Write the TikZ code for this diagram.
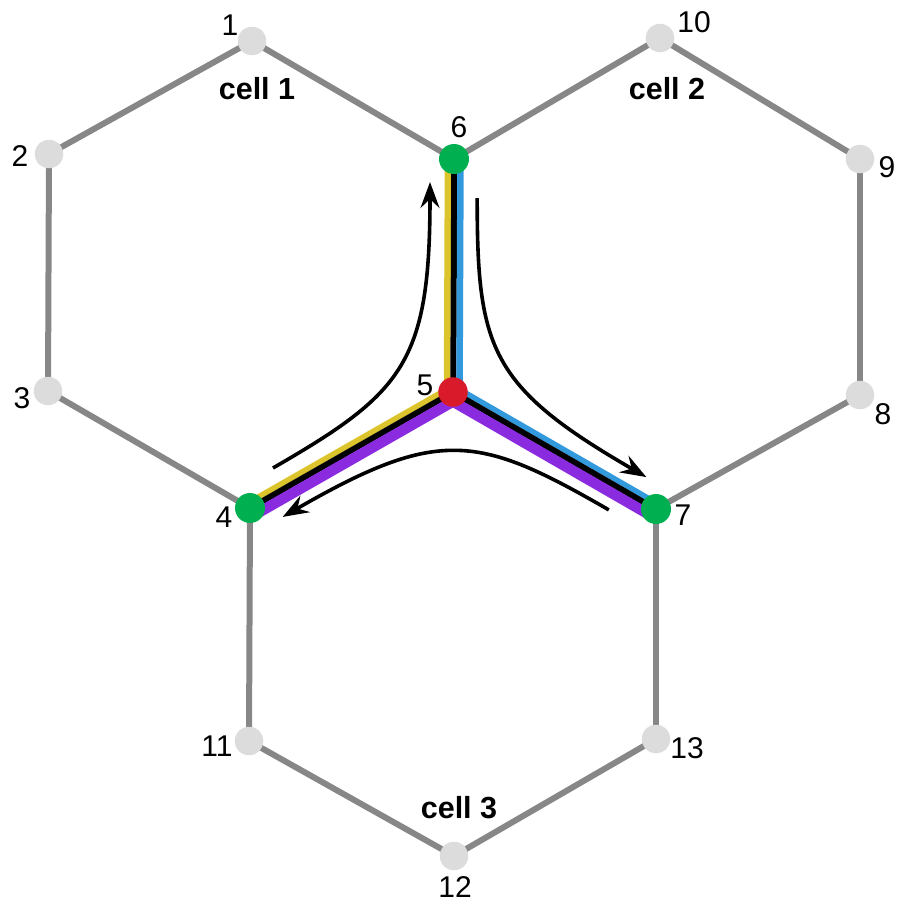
\documentclass[tikz,border=0pt]{standalone}
\usepackage{fontspec}
\setmainfont{Liberation Sans}
\usetikzlibrary{calc,arrows.meta}
\pgfdeclarelayer{bg}
\pgfsetlayers{bg,main}
\definecolor{edgegray}{HTML}{878787}
\definecolor{nodegray}{HTML}{DCDCDC}
\definecolor{cgreen}{HTML}{00B050}
\definecolor{cred}{HTML}{D91A2A}
\definecolor{cyellow}{HTML}{DCC42C}
\definecolor{cblue}{HTML}{3399DD}
\definecolor{cpurple}{HTML}{8B2BE0}
\begin{document}
\begin{tikzpicture}[x=1pt,y=-1pt,
  vtx/.style={circle,fill=nodegray,minimum size=28.5pt,inner sep=0pt},
  hub/.style={circle,fill=cgreen,minimum size=30pt,inner sep=0pt},
  ctr/.style={circle,fill=cred,minimum size=29.5pt,inner sep=0pt},
  lbl/.style={inner sep=0pt,font=\fontsize{30}{32}\selectfont},
  cellname/.style={inner sep=0pt,font=\fontsize{30.5}{32}\selectfont\bfseries},
  edge/.style={draw=edgegray,line width=6pt},
  flow/.style={line width=3.6pt,-{Stealth[length=26pt,width=19pt,inset=9pt]}}]
\useasboundingbox (0,0) rectangle (901,905);

% vertices
\node[vtx] (n1) at (252,41) {};
\node[vtx] (n2) at (49,154) {};
\node[vtx] (n3) at (48,391) {};
\node[hub] (n4) at (250,508) {};
\node[ctr] (n5) at (453,392) {};
\node[hub] (n6) at (454,159) {};
\node[hub] (n7) at (656,509) {};
\node[vtx] (n8) at (860,395) {};
\node[vtx] (n9) at (860,159) {};
\node[vtx] (n10) at (660,38) {};
\node[vtx] (n11) at (249,741) {};
\node[vtx] (n12) at (454,856) {};
\node[vtx] (n13) at (656,739) {};

\begin{pgfonlayer}{bg}
  \foreach \a/\b in {n1/n2,n2/n3,n3/n4,n1/n6,n6/n10,n10/n9,n9/n8,n8/n7,n4/n11,n11/n12,n12/n13,n13/n7}
    \draw[edge] (\a.center) -- (\b.center);
  % edge 5-6
  \draw[cyellow,line width=6.5pt] ($(n5.center)+(-6,3)$) -- ($(n6.center)+(-6,0)$);
  \draw[black,line width=6pt] ($(n5.center)+(0.25,3)$) -- ($(n6.center)+(0.25,0)$);
  \draw[cblue,line width=6.5pt] ($(n5.center)+(6.5,3)$) -- ($(n6.center)+(6.5,0)$);
  % edge 5-4
  \draw[cyellow,line width=5.5pt] ($(n5.center)+(-0.1,-6.2)$) -- ($(n4.center)+(-2.7,-4.7)$);
  \draw[black,line width=6pt] ($(n5.center)+(2.725,-1.283)$) -- ($(n4.center)+(0.125,0.217)$);
  \draw[cpurple,line width=10.5pt] ($(n5.center)+(6.75,5.65)$) -- ($(n4.center)+(4.15,7.15)$);
  % edge 5-7
  \draw[cblue,line width=5.5pt] ($(n5.center)+(0.1,-6.2)$) -- ($(n7.center)+(2.7,-4.7)$);
  \draw[black,line width=6pt] ($(n5.center)+(-2.725,-1.283)$) -- ($(n7.center)+(-0.125,0.217)$);
  \draw[cpurple,line width=10.5pt] ($(n5.center)+(-6.75,5.65)$) -- ($(n7.center)+(-4.15,7.15)$);
\end{pgfonlayer}

% flow arrows
\foreach \ang in {0,-120,-240}
  \draw[flow,rotate around={\ang:(453,392)}] (273,468) .. controls (403,393) and (430,363) .. (430,182);

% labels
\node[lbl] (l1) at (230,25) {1};
\node[lbl] (l2) at (20,156) {2};
\node[lbl] (l3) at (22,398) {3};
\node[lbl] (l4) at (224,517) {4};
\node[lbl] (l5) at (425,385) {5};
\node[lbl] (l6) at (459,127) {6};
\node[lbl] (l7) at (683,515) {7};
\node[lbl] (l8) at (883,414) {8};
\node[lbl] (l9) at (887,167) {9};
\node[lbl] (l10) at (694,22) {10};
\node[lbl] (l11) at (217,746) {11};
\node[lbl] (l12) at (455,887) {12};
\node[lbl] (l13) at (687,748) {13};
\node[cellname] (c1) at (257,89) {cell 1};
\node[cellname] (c2) at (667,89) {cell 2};
\node[cellname] (c3) at (459,808) {cell 3};
\end{tikzpicture}
\end{document}
